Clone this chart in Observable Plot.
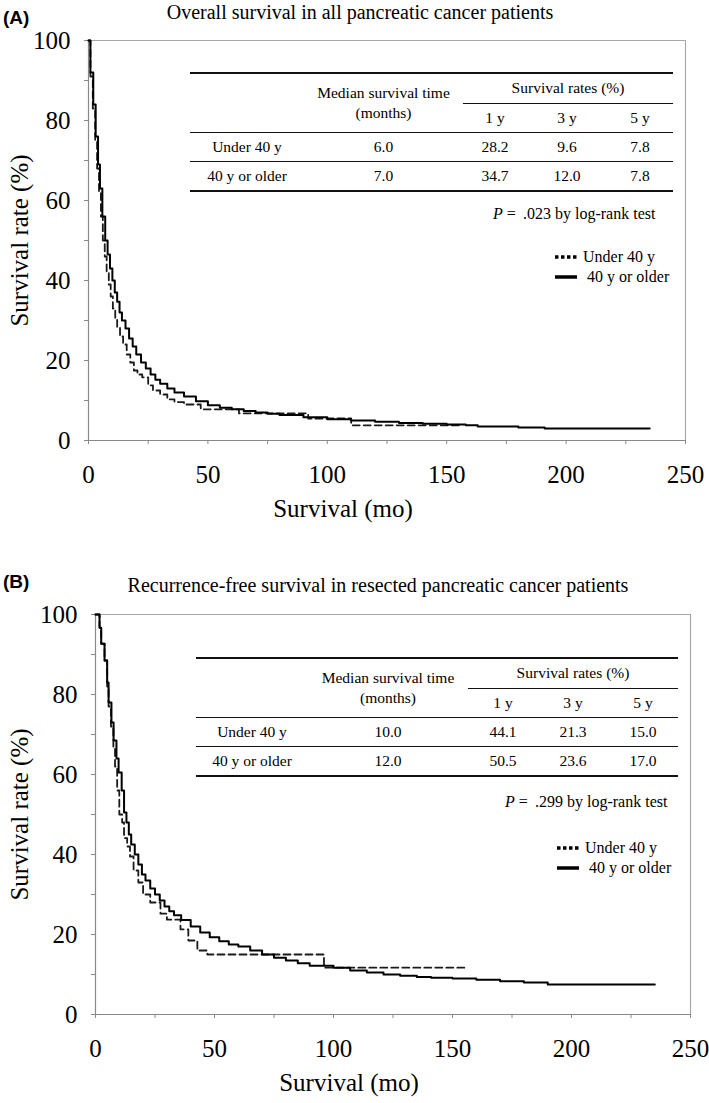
<!DOCTYPE html>
<html>
<head>
<meta charset="utf-8">
<script src="https://cdn.jsdelivr.net/npm/d3@7"></script>
<script src="https://cdn.jsdelivr.net/npm/@observablehq/plot@0.6"></script>
<style>
  body { margin: 0; background: #fff; }
  #root { position: relative; width: 709px; height: 1103px; font-family: "Liberation Serif", "Times New Roman", serif; color: #000; overflow: hidden; }
  #root > svg { position: absolute; left: 0; }
  #root > svg, #root > svg text { font-family: "Liberation Serif", "Times New Roman", serif !important; }
  .abs { position: absolute; white-space: nowrap; }
  .tag { font-family: "Liberation Sans", Arial, sans-serif; font-weight: bold; font-size: 19px; line-height: 20px; }
  .title { font-size: 20px; line-height: 22px; transform: translateX(-50%); }
  .pval { font-size: 16px; line-height: 20px; }
  .leg { font-size: 16px; line-height: 20px; display: flex; align-items: center; }
  .leg svg { margin-right: 6px; }
  table.st { position: absolute; border-collapse: collapse; table-layout: fixed; font-size: 15.5px; border-top: 2px solid #111; border-bottom: 2px solid #111; }
  table.st td { padding: 0; text-align: center; vertical-align: middle; line-height: 20px; }
  table.st td.bb { border-bottom: 1.5px solid #111; }
</style>
</head>
<body>
<div id="root"></div>
<script>
// ---------- data ----------
const xTicks = [0, 25, 50, 75, 100, 125, 150, 175, 200, 225, 250];
const yTicks = [0, 10, 20, 30, 40, 50, 60, 70, 80, 90, 100];

// Panel A: overall survival
const aUnder40Months = [0, 0.8, 1.8, 2.8, 3.6, 4.4, 5.2, 6, 6.8, 7.6, 8.5, 9.3, 10.2, 11.2, 12, 13.2, 14.5, 16, 17.5, 19, 20.5, 22.5, 25, 27, 30, 33, 36, 40, 47, 63, 92, 110, 156];
const aUnder40Surv   = [100, 91, 83, 75, 68, 62, 56, 50, 46, 42, 39, 36, 33, 30.5, 28.2, 26, 24, 21.5, 19.5, 17.5, 16.5, 15.8, 13.8, 12.5, 11.5, 10.3, 9.6, 9, 7.8, 6.8, 5.5, 3.8, 3.8];
const aOlderMonths = [0, 0.8, 2, 3, 4, 4.8, 5.8, 7, 8, 9, 10, 11, 12, 13, 14, 15.5, 17, 18.5, 20, 22, 24, 26, 28, 30, 33, 36, 40, 45, 50, 55, 60, 65, 70, 75, 80, 90, 100, 110, 120, 130, 140, 150, 158, 163, 180, 191, 235];
const aOlderSurv   = [100, 92, 84, 76, 69, 63, 56, 50, 46.5, 43, 40, 37, 34.7, 32, 30, 28, 25.5, 23.5, 21.5, 19.5, 18, 16.5, 15.2, 14.2, 13, 12, 11, 9.8, 8.8, 8.2, 7.8, 7.4, 7, 6.7, 6.4, 5.8, 5.3, 5, 4.7, 4.4, 4.2, 4, 3.8, 3.5, 3.25, 3, 3];

// Panel B: recurrence-free survival
const bUnder40Months = [0, 1.7, 2.4, 3.8, 4.9, 5.5, 6.5, 7.5, 8.2, 9.1, 10, 11.2, 12, 13.3, 14.5, 16, 18, 20, 23, 27.3, 30, 35.7, 39, 42.8, 47, 96, 155];
const bUnder40Surv   = [100, 96.7, 92.7, 88.5, 82, 77, 72, 67, 62, 56, 50, 48, 44.1, 42, 39.5, 36, 33, 30, 28, 25.2, 23.7, 21.3, 18.5, 16, 15, 11.7, 11.7];
const bOlderMonths = [0, 1.7, 2.4, 3.8, 4.9, 5.5, 6.7, 7.6, 8.8, 9.7, 11, 12, 13, 14, 15, 16.5, 18, 19.5, 21, 23, 25, 27, 29, 31, 33, 36, 40, 44, 48, 52, 56, 60, 65, 70, 75, 80, 85, 90, 100, 107, 114, 121, 128, 135, 141, 150, 160, 170, 180, 190, 235];
const bOlderSurv   = [100, 96.7, 92.7, 88.5, 83, 78, 73, 68.5, 64, 60.5, 56, 50.5, 48, 45, 42.5, 40, 37.5, 35, 33.5, 31.5, 30, 28.5, 27, 25.8, 24.8, 23.6, 22, 20.5, 19.3, 18.3, 17.5, 17, 16, 15, 14.2, 13.5, 12.8, 12.2, 11.7, 11, 10.5, 10, 9.7, 9.4, 9.2, 9, 8.7, 8.3, 8, 7.5, 7.5];

// tables
const groups = ["Under 40 y", "40 y or older"];
const rateYears = ["1 y", "3 y", "5 y"];
const aMedian = ["6.0", "7.0"];
const aRates = [["28.2", "9.6", "7.8"], ["34.7", "12.0", "7.8"]];
const aP = ".023";
const bMedian = ["10.0", "12.0"];
const bRates = [["44.1", "21.3", "15.0"], ["50.5", "23.6", "17.0"]];
const bP = ".299";

// ---------- drawing ----------
const root = document.getElementById("root");
const toRows = (t, s) => t.map((d, i) => ({t: d, s: s[i]}));
const SERIF = "'Liberation Serif', 'Times New Roman', serif";

function panel({under, older, marginLeft, marginRight, height, marginBottom}) {
  return Plot.plot({
    width: 709, height, marginTop: 40, marginBottom, marginLeft, marginRight,
    x: {domain: [0, 250]},
    y: {domain: [0, 100]},
    style: `font-family: ${SERIF}; font-size: 25px; color: #000; background: #fff;`,
    marks: [
      Plot.ruleY([100], {stroke: "#a8a8a8", strokeWidth: 1.2}),
      Plot.ruleX([250], {stroke: "#a8a8a8", strokeWidth: 1.2}),
      Plot.axisY({ticks: yTicks, tickSize: 4, tickPadding: 14, stroke: "#888", fill: "#000", fontSize: 25, fontFamily: SERIF,
        tickFormat: d => d % 20 === 0 ? d : "", label: null}),
      Plot.axisX({ticks: xTicks, tickSize: 4, tickPadding: 21, stroke: "#888", fill: "#000", fontSize: 25, fontFamily: SERIF,
        tickFormat: d => d % 50 === 0 ? d : "", label: null}),
      Plot.ruleX([0], {stroke: "#888", strokeWidth: 1.2}),
      Plot.ruleY([0], {stroke: "#888", strokeWidth: 1.2}),
      Plot.line(under, {x: "t", y: "s", curve: "step-after", stroke: "#1a1a1a", strokeWidth: 1.8, strokeDasharray: "7,4"}),
      Plot.line(older, {x: "t", y: "s", curve: "step-after", stroke: "#000", strokeWidth: 2}),
      Plot.text(["Survival rate (%)"], {frameAnchor: "left", textAnchor: "middle", lineAnchor: "middle", rotate: -90, dx: -marginLeft + 19, fontSize: 25, fontFamily: SERIF}),
      Plot.text(["Survival (mo)"], {frameAnchor: "bottom", textAnchor: "middle", lineAnchor: "middle", dy: 68, dx: -44, fontSize: 25, fontFamily: SERIF})
    ]
  });
}

const svgA = panel({under: toRows(aUnder40Months, aUnder40Surv), older: toRows(aOlderMonths, aOlderSurv),
  marginLeft: 88, marginRight: 24, height: 525, marginBottom: 85});
svgA.style.top = "0px";
root.appendChild(svgA);

const svgB = panel({under: toRows(bUnder40Months, bUnder40Surv), older: toRows(bOlderMonths, bOlderSurv),
  marginLeft: 95, marginRight: 19, height: 529, marginBottom: 89});
svgB.style.top = "574px";
root.appendChild(svgB);

function addDiv(cls, html, css) {
  const d = document.createElement("div");
  d.className = "abs " + cls;
  d.innerHTML = html;
  Object.assign(d.style, css);
  root.appendChild(d);
  return d;
}

function addTable(left, top, widths, medians, rates) {
  const cols = widths.map(w => `<col style="width:${w}px">`).join("");
  const rows = groups.map((g, i) =>
    `<tr style="height:${i === 0 ? 29 : 30}px"><td${i === 0 ? ' class="bb"' : ''}>${g}</td><td${i === 0 ? ' class="bb"' : ''}>${medians[i]}</td>` +
    rates[i].map(r => `<td${i === 0 ? ' class="bb"' : ''}>${r}</td>`).join("") + `</tr>`).join("");
  const html = `<table class="st" style="left:${left}px;top:${top}px;width:${d3.sum(widths)}px"><colgroup>${cols}</colgroup>
    <tr style="height:30px"><td rowspan="2" class="bb"></td><td rowspan="2" class="bb">Median survival time<br>(months)</td><td colspan="3" class="bb">Survival rates (%)</td></tr>
    <tr style="height:29px">${rateYears.map(y => `<td class="bb">${y}</td>`).join("")}</tr>
    ${rows}</table>`;
  const wrap = document.createElement("div");
  wrap.innerHTML = html;
  root.appendChild(wrap.firstElementChild);
}

function legendIcon(dashed) {
  return `<svg width="22" height="6" viewBox="0 0 22 6"><line x1="0" x2="22" y1="3" y2="3" stroke="#000" stroke-width="3.5" ${dashed ? 'stroke-dasharray="3.5,2.5"' : ''}/></svg>`;
}

// Panel A annotations
addDiv("tag", "(A)", {left: "3px", top: "8px"});
addDiv("title", "Overall survival in all pancreatic cancer patients", {left: "360px", top: "1px"});
addTable(190, 72, [114, 159, 64, 80, 66], aMedian, aRates);
addDiv("pval", `<i>P</i> = &thinsp;${aP} by log-rank test`, {left: "493px", top: "204px"});
addDiv("leg", legendIcon(true) + groups[0], {left: "555px", top: "247px"});
addDiv("leg", legendIcon(false) + "&nbsp;" + groups[1], {left: "555px", top: "267px"});

// Panel B annotations
addDiv("tag", "(B)", {left: "3px", top: "572px"});
addDiv("title", "Recurrence-free survival in resected pancreatic cancer patients", {left: "378px", top: "574px"});
addTable(196, 657, [112, 160, 70, 70, 70], bMedian, bRates);
addDiv("pval", `<i>P</i> = &thinsp;${bP} by log-rank test`, {left: "505px", top: "792px"});
addDiv("leg", legendIcon(true) + groups[0], {left: "557px", top: "838px"});
addDiv("leg", legendIcon(false) + "&nbsp;" + groups[1], {left: "557px", top: "858px"});
</script>
</body>
</html>
